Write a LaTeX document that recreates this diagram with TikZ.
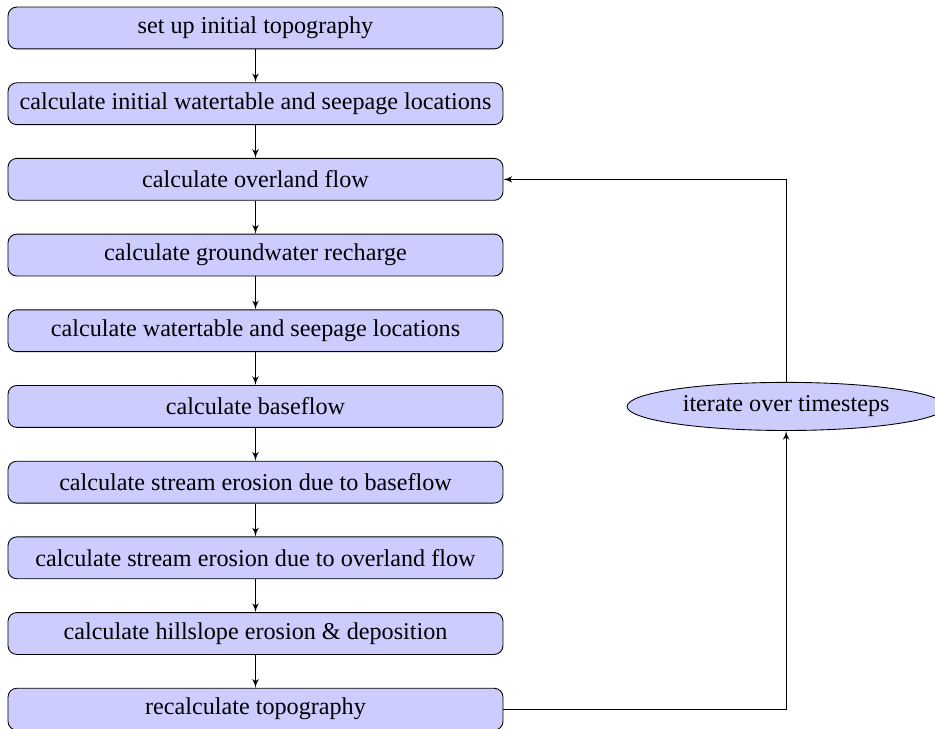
\documentclass[tikz,border=0pt]{standalone}
\usepackage{fontspec}
\setmainfont{Liberation Serif}
\usetikzlibrary{positioning}
\usetikzlibrary{arrows}
\usetikzlibrary{shapes}
\usetikzlibrary{chains}

\begin{document}
\begin{tikzpicture} [
   start chain=going below,    % boxes run top-to-bottom
    node distance=12.11mm and 84.9mm, % centre-to-centre spacing
    font=\fontsize{11pt}{13pt}\selectfont,
    ]
% -------------------------------------------------
\tikzset{
  base/.style={draw, on grid, on chain, align=center, fill=blue!20, minimum height=6.7mm},
  rect/.style={base, rectangle, rounded corners, minimum width=79.2mm},
  loopnode/.style={draw, ellipse, on grid, fill=blue!20, minimum width=50.9mm, minimum height=7.7mm, inner sep=1pt},
  line/.style={draw, -latex'}
}

    \useasboundingbox (0,0) rectangle (14.96,-11.664);

    \node [rect, at={(4.088,-0.448)}] (top) {set up initial topography};
    \node [rect] (iwt) {calculate initial watertable and seepage locations};
    \node [rect] (ovl) {calculate overland flow};
    \node [rect] (gwr) {calculate groundwater recharge};
    \node [rect] (wtb) {calculate watertable and seepage locations};
    \node [rect] (bsf) {calculate baseflow};
    \node [rect] (seb) {calculate stream erosion due to baseflow};
    \node [rect] (seo) {calculate stream erosion due to overland flow};
    \node [rect] (hse) {calculate hillslope erosion \& deposition};
    \node [rect] (rtp) {recalculate topography};
    \node [loopnode, right=of bsf] (itr) {iterate over timesteps};

    \path [line] (top) -- (iwt);
    \path [line] (iwt) -- (ovl);
    \path [line] (ovl) -- (gwr);
    \path [line] (gwr) -- (wtb);
    \path [line] (wtb) -- (bsf);
    \path [line] (bsf) -- (seb);
    \path [line] (seb) -- (seo);
    \path [line] (seo) -- (hse);
    \path [line] (hse) -- (rtp);
    \path [line] (rtp) -| (itr);
    \path [line] (itr) |- (ovl);

\end{tikzpicture}
\end{document}
